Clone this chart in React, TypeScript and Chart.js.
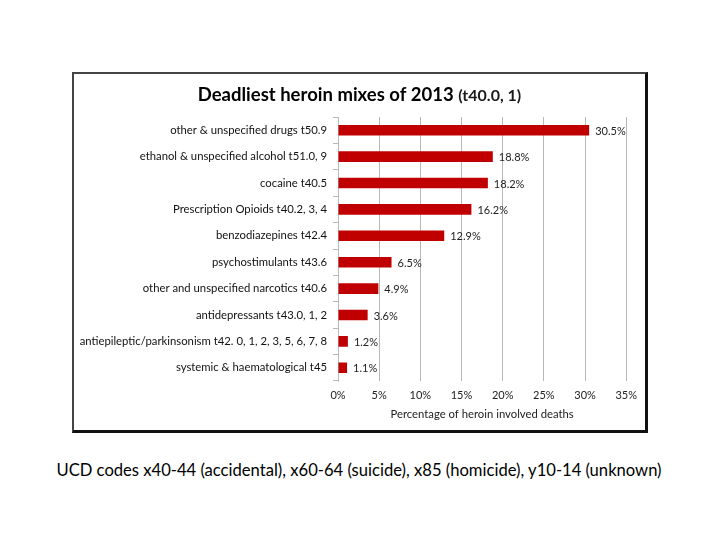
import React, { useEffect, useRef } from "react";
import { Chart, registerables } from "chart.js";

Chart.register(...registerables);

const categories: string[] = [
  "other & unspecified drugs t50.9",
  "ethanol & unspecified alcohol t51.0, 9",
  "cocaine t40.5",
  "Prescription Opioids t40.2, 3, 4",
  "benzodiazepines t42.4",
  "psychostimulants t43.6",
  "other and unspecified narcotics t40.6",
  "antidepressants t43.0, 1, 2",
  "antiepileptic/parkinsonism t42. 0, 1, 2, 3, 5, 6, 7, 8",
  "systemic & haematological t45",
];

const percentages: number[] = [30.5, 18.8, 18.2, 16.2, 12.9, 6.5, 4.9, 3.6, 1.2, 1.1];

const xTickValues: number[] = [0, 5, 10, 15, 20, 25, 30, 35];

const titleMain = "Deadliest heroin mixes of 2013";
const titleSuffix = "(t40.0, 1)";
const xAxisTitle = "Percentage of heroin involved deaths";
const caption =
  "UCD codes x40-44 (accidental), x60-64 (suicide), x85 (homicide), y10-14 (unknown)";

const FONT = "Lato, 'Open Sans', 'DejaVu Sans', sans-serif";

const titlePlugin = {
  id: "mixedTitle",
  afterDraw(chart: any) {
    const ctx = chart.ctx;
    ctx.save();
    const mainFont = `bold 18.5px ${FONT}`;
    const subFont = `bold 16px ${FONT}`;
    ctx.font = mainFont;
    const w1 = ctx.measureText(titleMain + " ").width;
    ctx.font = subFont;
    const w2 = ctx.measureText(titleSuffix).width;
    const total = w1 + w2;
    const x0 = chart.width / 2 - total / 2;
    const y = 27;
    ctx.textBaseline = "alphabetic";
    ctx.textAlign = "left";
    ctx.fillStyle = "#000";
    ctx.font = mainFont;
    ctx.fillText(titleMain + " ", x0, y);
    ctx.fillStyle = "#1a1a1a";
    ctx.font = subFont;
    ctx.fillText(titleSuffix, x0 + w1, y);
    ctx.restore();
  },
};

const valueLabelPlugin = {
  id: "valueLabels",
  afterDatasetsDraw(chart: any) {
    const ctx = chart.ctx;
    const meta = chart.getDatasetMeta(0);
    const data = chart.data.datasets[0].data as number[];
    ctx.save();
    ctx.font = `11px ${FONT}`;
    ctx.fillStyle = "#222";
    ctx.textAlign = "left";
    ctx.textBaseline = "middle";
    meta.data.forEach((bar: any, i: number) => {
      ctx.fillText(data[i].toFixed(1) + "%", bar.x + 6, bar.y + 1);
    });
    ctx.restore();
  },
};

function App() {
  const canvasRef = useRef<HTMLCanvasElement | null>(null);

  useEffect(() => {
    if (!canvasRef.current) return;
    const chart = new Chart(canvasRef.current, {
      type: "bar",
      data: {
        labels: categories,
        datasets: [
          {
            data: percentages,
            backgroundColor: "#C00000",
            borderWidth: 0,
            barPercentage: 0.4,
            categoryPercentage: 1,
          },
        ],
      },
      options: {
        indexAxis: "y",
        animation: false,
        responsive: false,
        maintainAspectRatio: false,
        layout: { padding: { top: 43, left: 0, right: 18, bottom: 9 } },
        plugins: {
          legend: { display: false },
          tooltip: { enabled: false },
          title: { display: false },
        },
        scales: {
          x: {
            min: 0,
            max: 35,
            afterBuildTicks: (scale: any) => {
              scale.ticks = xTickValues.map((v) => ({ value: v }));
            },
            ticks: {
              callback: (v: any) => v + "%",
              font: { family: FONT, size: 11 },
              color: "#222",
              padding: 8,
              maxRotation: 0,
            },
            grid: { color: "#b8b8b8", drawTicks: false, lineWidth: 1 },
            border: { display: false },
            title: {
              display: true,
              text: xAxisTitle,
              font: { family: FONT, size: 11.3 },
              color: "#222",
              padding: { top: 2, bottom: 0 },
            },
            afterFit: (scale: any) => {
              scale.height = 40;
            },
          },
          y: {
            ticks: {
              font: { family: FONT, size: 11.3 },
              color: "#111",
              padding: 6,
              autoSkip: false,
            },
            grid: {
              offset: true,
              drawOnChartArea: false,
              drawTicks: true,
              tickLength: 5,
              color: "#b8b8b8",
            },
            border: { display: true, color: "#b8b8b8" },
            afterFit: (scale: any) => {
              scale.width = 264;
            },
          },
        },
      },
      plugins: [titlePlugin, valueLabelPlugin],
    });
    return () => chart.destroy();
  }, []);

  return (
    <div
      style={{
        position: "absolute",
        left: 0,
        top: 0,
        width: 720,
        height: 540,
        background: "#fff",
      }}
    >
      <div
        style={{
          position: "absolute",
          left: 72,
          top: 72,
          width: 571,
          height: 356,
          borderTop: "2px solid #444",
          borderLeft: "2px solid #444",
          borderRight: "3px solid #111",
          borderBottom: "3px solid #111",
          background: "#fff",
        }}
      >
        <canvas ref={canvasRef} width={571} height={356} style={{ display: "block" }} />
      </div>
      <div
        style={{
          position: "absolute",
          left: 0,
          width: 718,
          top: 460,
          textAlign: "center",
          fontFamily: FONT,
          fontSize: 16.6,
          color: "#000",
          whiteSpace: "nowrap",
        }}
      >
        {caption}
      </div>
    </div>
  );
}

export default App;
